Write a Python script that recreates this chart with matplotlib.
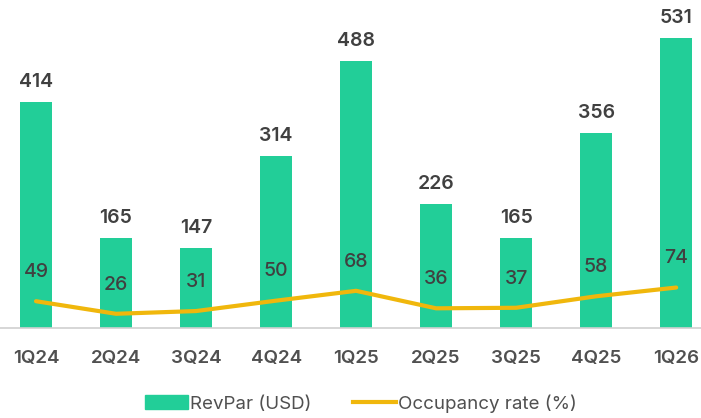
import matplotlib.pyplot as plt
from matplotlib.patches import Patch
from matplotlib.lines import Line2D

quarters = ['1Q24', '2Q24', '3Q24', '4Q24', '1Q25', '2Q25', '3Q25', '4Q25', '1Q26']
revpar = [414, 165, 147, 314, 488, 226, 165, 356, 531]
occupancy = [49, 26, 31, 50, 68, 36, 37, 58, 74]

green = '#22CE98'
gold = '#F0B70C'
txt = '#404040'

plt.rcParams['font.family'] = ['Inter', 'DejaVu Sans']

fig = plt.figure(figsize=(7.01, 4.18), dpi=100)
ax = fig.add_axes([0, 90 / 418, 1, 328 / 418])

x = list(range(len(quarters)))
ax.bar(x, revpar, width=0.4, color=green, zorder=2)
ax.plot(x, occupancy, color=gold, lw=3, solid_capstyle='round', zorder=3)

for i, v in enumerate(revpar):
    ax.annotate(str(v), (i, v), xytext=(0, 8), textcoords='offset points',
                ha='center', va='bottom', fontsize=14, fontweight='semibold', color=txt)
for i, v in enumerate(occupancy):
    ax.annotate(str(v), (i, v), xytext=(0, 21), textcoords='offset points',
                ha='center', va='center', fontsize=14, fontweight='medium', color=txt, zorder=4)

ax.set_xlim(-0.45, 8.31)
ax.set_ylim(0, 600)
ax.set_yticks([])
ax.set_xticks(x)
ax.set_xticklabels(quarters, fontsize=13.5, color='#505050', fontweight='semibold')
ax.tick_params(axis='x', length=0, pad=16)
for s in ['top', 'right', 'left']:
    ax.spines[s].set_visible(False)
ax.spines['bottom'].set_color('#d0d0d0')
ax.spines['bottom'].set_linewidth(1.2)

handles = [Patch(color=green, label='RevPar (USD)'),
           Line2D([0], [0], color=gold, lw=3, label='Occupancy rate (%)')]
fig.legend(handles=handles, loc='center', bbox_to_anchor=(0.515, 0.035), ncol=2,
           frameon=False, fontsize=13.5, labelcolor='#505050', handlelength=2.3,
           handleheight=0.8, columnspacing=2.2, handletextpad=0.1)

fig.savefig('out.png', dpi=100)
